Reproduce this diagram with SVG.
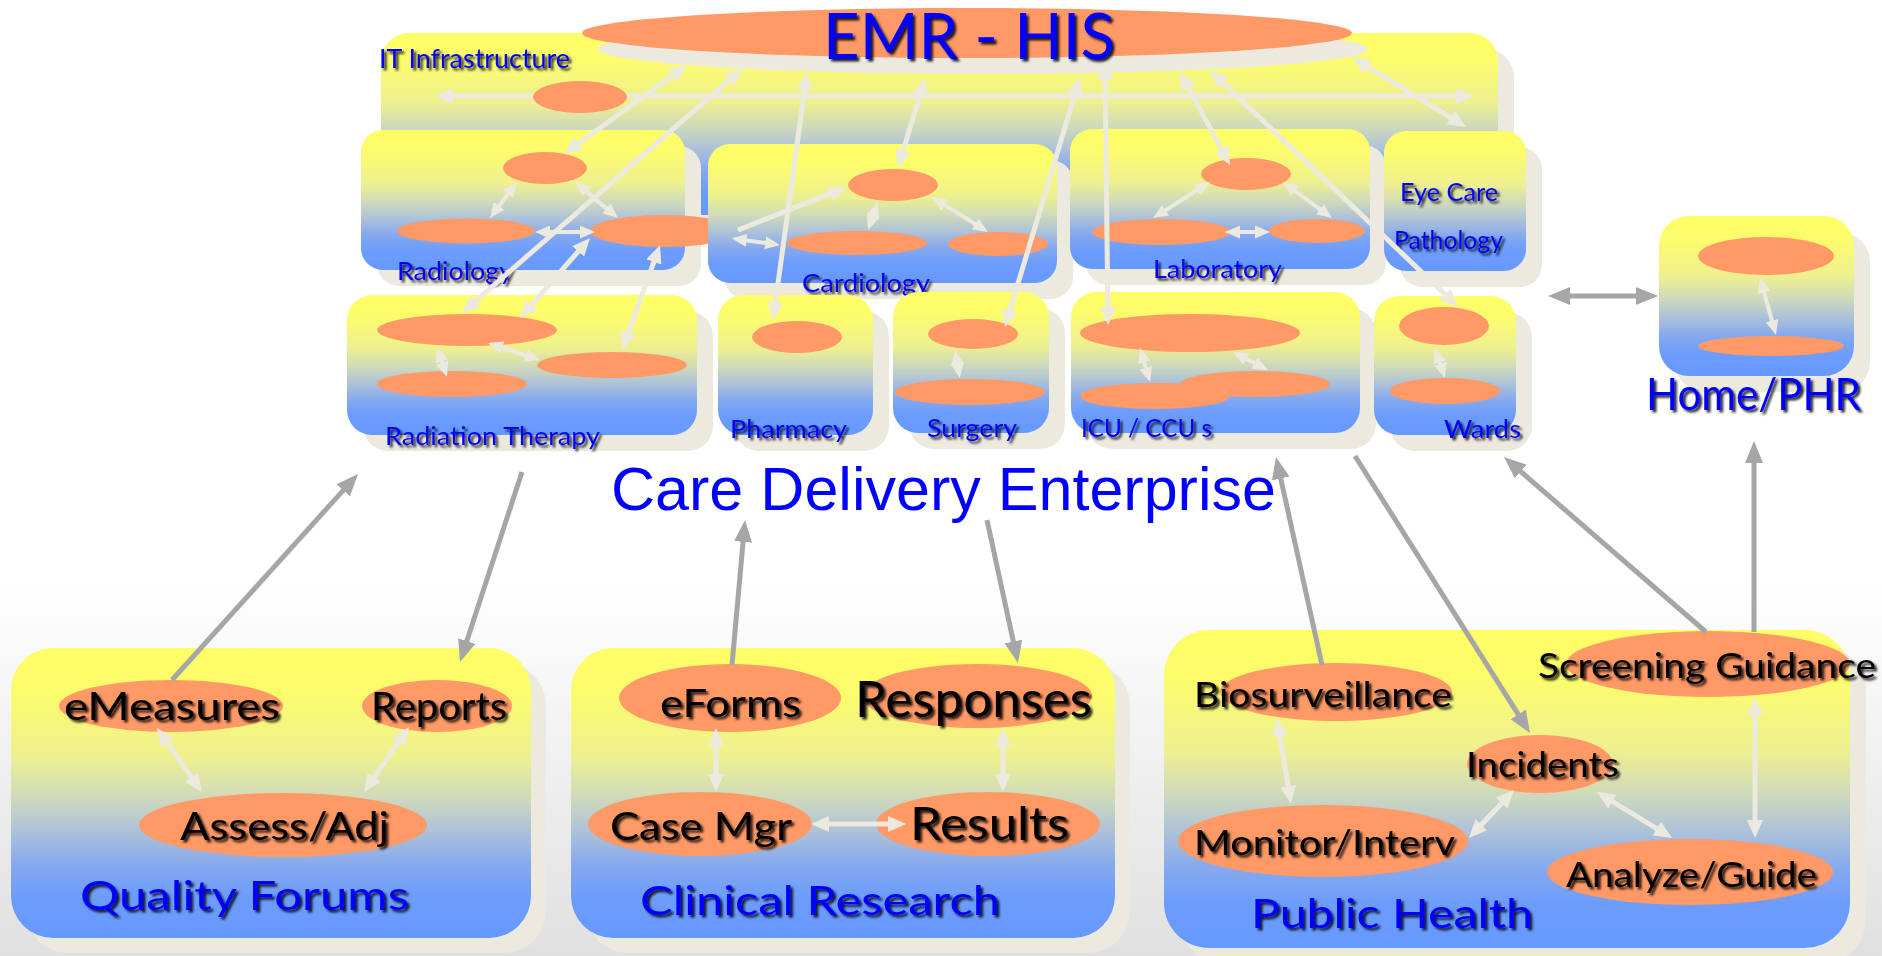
<svg xmlns="http://www.w3.org/2000/svg" width="1882" height="956" viewBox="0 0 1882 956">
<defs>
<style>
.b{fill:url(#box)}
.sh{fill:#ECEADF}
.e{fill:#FF9966}
.c{stroke:#ECEADF;stroke-width:5;fill:none;marker-start:url(#ab);marker-end:url(#ab)}
.c1{stroke:#ECEADF;stroke-width:5;fill:none;marker-end:url(#ab)}
.cs{stroke:#ECEADF;stroke-width:4;fill:none;marker-start:url(#as);marker-end:url(#as)}
.g{stroke:#A6A6A6;stroke-width:5;fill:none;marker-end:url(#ag)}
.g2{stroke:#A6A6A6;stroke-width:5;fill:none;marker-start:url(#ag);marker-end:url(#ag)}
.lb{font-family:Lato,"Liberation Sans",sans-serif;fill:#0000FF;filter:url(#ts)}
.bk{font-family:Lato,"Liberation Sans",sans-serif;fill:#000000;filter:url(#ts)}
</style>
<linearGradient id="box" x1="0" y1="0" x2="0" y2="1">
<stop offset="0" stop-color="#FFFF66"/>
<stop offset="0.15" stop-color="#FCFC6C"/>
<stop offset="0.38" stop-color="#EEF090"/>
<stop offset="0.52" stop-color="#CED9BC"/>
<stop offset="0.63" stop-color="#AEC2D8"/>
<stop offset="0.75" stop-color="#85A9EE"/>
<stop offset="0.86" stop-color="#6C9CFC"/>
<stop offset="1" stop-color="#6699FF"/>
</linearGradient>
<linearGradient id="bg" gradientUnits="userSpaceOnUse" x1="0" y1="580" x2="0" y2="956">
<stop offset="0" stop-color="#FFFFFF"/>
<stop offset="1" stop-color="#E0E0E0"/>
</linearGradient>
<filter id="ts" x="-10%" y="-30%" width="130%" height="170%">
<feDropShadow dx="2.5" dy="2.5" stdDeviation="1" flood-color="#000000" flood-opacity="0.85"/>
</filter>
<marker id="ab" viewBox="0 0 18 16" refX="6" refY="8" markerWidth="18" markerHeight="16" markerUnits="userSpaceOnUse" orient="auto-start-reverse"><path d="M0,0L18,8L0,16Z" fill="#ECEADF"/></marker>
<marker id="as" viewBox="0 0 15 13" refX="5" refY="6.5" markerWidth="15" markerHeight="13" markerUnits="userSpaceOnUse" orient="auto-start-reverse"><path d="M0,0L15,6.5L0,13Z" fill="#ECEADF"/></marker>
<marker id="ag" viewBox="0 0 22 18" refX="8" refY="9" markerWidth="22" markerHeight="18" markerUnits="userSpaceOnUse" orient="auto-start-reverse"><path d="M0,0L22,9L0,18Z" fill="#A6A6A6"/></marker>
</defs>

<rect x="0" y="0" width="1882" height="956" fill="url(#bg)"/>

<g id="it-infrastructure">
<rect class="sh" x="397" y="49" width="1117" height="182" rx="28"/>
<rect class="b" x="381" y="33" width="1117" height="182" rx="28"/>
<ellipse class="e" cx="580" cy="97" rx="47" ry="16"/>
<text class="lb" x="379" y="68" font-size="26.5" textLength="191" lengthAdjust="spacingAndGlyphs">IT Infrastructure</text>
</g>

<g id="emr-his">
<ellipse class="sh" cx="983" cy="49" rx="385" ry="25"/>
<ellipse class="e" cx="967" cy="33" rx="385" ry="25"/>
<text class="lb" x="823" y="59" font-size="63" textLength="292" lengthAdjust="spacingAndGlyphs">EMR - HIS</text>
</g>

<g id="radiology">
<rect class="sh" x="377" y="146" width="324" height="140" rx="22"/>
<rect class="b" x="361" y="130" width="324" height="140" rx="22"/>
<ellipse class="e" cx="545" cy="168" rx="42" ry="16"/>
<ellipse class="e" cx="466" cy="231" rx="69" ry="12.5"/>
<ellipse class="e" cx="664" cy="231" rx="74" ry="16"/>
<text class="lb" x="397" y="280" font-size="25" textLength="116" lengthAdjust="spacingAndGlyphs">Radiology</text>
</g>

<g id="cardiology">
<rect class="sh" x="724" y="160" width="349" height="139" rx="22"/>
<rect class="b" x="708" y="144" width="349" height="139" rx="22"/>
<ellipse class="e" cx="893" cy="185" rx="45" ry="16"/>
<ellipse class="e" cx="857" cy="243" rx="70" ry="12"/>
<ellipse class="e" cx="998" cy="244" rx="50" ry="12"/>
<text class="lb" x="802" y="292" font-size="25" textLength="128" lengthAdjust="spacingAndGlyphs">Cardiology</text>
</g>

<g id="laboratory">
<rect class="sh" x="1086" y="145" width="300" height="140" rx="22"/>
<rect class="b" x="1070" y="129" width="300" height="140" rx="22"/>
<ellipse class="e" cx="1246" cy="174" rx="45" ry="16"/>
<ellipse class="e" cx="1161" cy="232" rx="69" ry="13"/>
<ellipse class="e" cx="1317" cy="231" rx="48" ry="12"/>
<text class="lb" x="1153" y="278" font-size="25" textLength="129" lengthAdjust="spacingAndGlyphs">Laboratory</text>
</g>

<g id="eye-care-pathology">
<rect class="sh" x="1400" y="147" width="142" height="140" rx="22"/>
<rect class="b" x="1384" y="131" width="142" height="140" rx="22"/>
<text class="lb" x="1400" y="201" font-size="25" textLength="98" lengthAdjust="spacingAndGlyphs">Eye Care</text>
<text class="lb" x="1394" y="249" font-size="25" textLength="109" lengthAdjust="spacingAndGlyphs">Pathology</text>
</g>

<g id="radiation-therapy">
<rect class="sh" x="363" y="311" width="350" height="140" rx="25"/>
<rect class="b" x="347" y="295" width="350" height="140" rx="25"/>
<ellipse class="e" cx="467" cy="330" rx="90" ry="16"/>
<ellipse class="e" cx="452" cy="384" rx="75" ry="13"/>
<ellipse class="e" cx="612" cy="365" rx="75" ry="13"/>
<text class="lb" x="385" y="445" font-size="25" textLength="215" lengthAdjust="spacingAndGlyphs">Radiation Therapy</text>
</g>

<g id="pharmacy">
<rect class="sh" x="734" y="311" width="155" height="140" rx="25"/>
<rect class="b" x="718" y="295" width="155" height="140" rx="25"/>
<ellipse class="e" cx="797" cy="337" rx="45" ry="16"/>
<text class="lb" x="730" y="438" font-size="25" textLength="117" lengthAdjust="spacingAndGlyphs">Pharmacy</text>
</g>

<g id="surgery">
<rect class="sh" x="909" y="308" width="156" height="141" rx="25"/>
<rect class="b" x="893" y="292" width="156" height="141" rx="25"/>
<ellipse class="e" cx="973" cy="334" rx="45" ry="15"/>
<ellipse class="e" cx="970" cy="392" rx="75" ry="13"/>
<text class="lb" x="927" y="437" font-size="25" textLength="90" lengthAdjust="spacingAndGlyphs">Surgery</text>
</g>

<g id="icu-ccu">
<rect class="sh" x="1087" y="308" width="289" height="141" rx="25"/>
<rect class="b" x="1071" y="292" width="289" height="141" rx="25"/>
<ellipse class="e" cx="1190" cy="333" rx="110" ry="19"/>
<ellipse class="e" cx="1255" cy="384" rx="75" ry="13"/>
<ellipse class="e" cx="1155" cy="396" rx="75" ry="13"/>
<text class="lb" x="1081" y="437" font-size="25" textLength="131" lengthAdjust="spacingAndGlyphs">ICU / CCU s</text>
</g>

<g id="wards">
<rect class="sh" x="1390" y="312" width="142" height="139" rx="25"/>
<rect class="b" x="1374" y="296" width="142" height="139" rx="25"/>
<ellipse class="e" cx="1444" cy="326" rx="45" ry="19"/>
<ellipse class="e" cx="1445" cy="391" rx="55" ry="13"/>
<text class="lb" x="1444" y="438" font-size="25" textLength="77" lengthAdjust="spacingAndGlyphs">Wards</text>
</g>

<g id="home-phr">
<rect class="sh" x="1675" y="232" width="195" height="160" rx="30"/>
<rect class="b" x="1659" y="216" width="195" height="160" rx="30"/>
<ellipse class="e" cx="1766" cy="256" rx="68" ry="19"/>
<ellipse class="e" cx="1771" cy="346" rx="73" ry="10"/>
<text class="lb" x="1646" y="410" font-size="45" textLength="215" lengthAdjust="spacingAndGlyphs">Home/PHR</text>
</g>

<g id="care-delivery-enterprise">
<text x="611" y="510" font-family="'Liberation Sans',Arial,sans-serif" font-size="61" fill="#0000FF" textLength="665" lengthAdjust="spacingAndGlyphs">Care Delivery Enterprise</text>
</g>

<g id="quality-forums">
<rect class="sh" x="26" y="663" width="520" height="290" rx="42"/>
<rect class="b" x="11" y="648" width="520" height="290" rx="42"/>
<ellipse class="e" cx="171" cy="706" rx="112" ry="26"/>
<ellipse class="e" cx="437" cy="706" rx="75" ry="26"/>
<ellipse class="e" cx="283" cy="825" rx="144" ry="32"/>
<text class="bk" x="64" y="720" font-size="39" textLength="216" lengthAdjust="spacingAndGlyphs">eMeasures</text>
<text class="bk" x="371" y="720" font-size="39" textLength="136" lengthAdjust="spacingAndGlyphs">Reports</text>
<text class="bk" x="180" y="840" font-size="39" textLength="209" lengthAdjust="spacingAndGlyphs">Assess/Adj</text>
<text class="lb" x="80" y="910" font-size="41" textLength="329" lengthAdjust="spacingAndGlyphs">Quality Forums</text>
</g>

<g id="clinical-research">
<rect class="sh" x="586" y="663" width="544" height="290" rx="42"/>
<rect class="b" x="571" y="648" width="544" height="290" rx="42"/>
<ellipse class="e" cx="730" cy="698" rx="111" ry="34"/>
<ellipse class="e" cx="977" cy="696" rx="115" ry="32"/>
<ellipse class="e" cx="700" cy="824" rx="112" ry="32"/>
<ellipse class="e" cx="988" cy="824" rx="112" ry="32"/>
<text class="bk" x="660" y="717" font-size="39" textLength="141" lengthAdjust="spacingAndGlyphs">eForms</text>
<text class="bk" x="855" y="717" font-size="50" textLength="237" lengthAdjust="spacingAndGlyphs">Responses</text>
<text class="bk" x="610" y="840" font-size="39" textLength="182" lengthAdjust="spacingAndGlyphs">Case Mgr</text>
<text class="bk" x="910" y="840" font-size="46" textLength="159" lengthAdjust="spacingAndGlyphs">Results</text>
<text class="lb" x="640" y="915" font-size="41" textLength="360" lengthAdjust="spacingAndGlyphs">Clinical Research</text>
</g>

<g id="public-health">
<rect class="sh" x="1180" y="646" width="686" height="318" rx="45"/>
<rect class="b" x="1164" y="630" width="686" height="318" rx="45"/>
<ellipse class="e" cx="1336" cy="692" rx="116" ry="29"/>
<ellipse class="e" cx="1708" cy="664" rx="142" ry="33"/>
<ellipse class="e" cx="1540" cy="764" rx="73" ry="29"/>
<ellipse class="e" cx="1323" cy="841" rx="145" ry="36"/>
<ellipse class="e" cx="1690" cy="872" rx="143" ry="33"/>
<text class="bk" x="1194" y="707" font-size="35" textLength="258" lengthAdjust="spacingAndGlyphs">Biosurveillance</text>
<text class="bk" x="1538" y="678" font-size="35" textLength="338" lengthAdjust="spacingAndGlyphs">Screening Guidance</text>
<text class="bk" x="1466" y="777" font-size="35" textLength="153" lengthAdjust="spacingAndGlyphs">Incidents</text>
<text class="bk" x="1194" y="855" font-size="35" textLength="261" lengthAdjust="spacingAndGlyphs">Monitor/Interv</text>
<text class="bk" x="1566" y="887" font-size="35" textLength="251" lengthAdjust="spacingAndGlyphs">Analyze/Guide</text>
<text class="lb" x="1251" y="928" font-size="41" textLength="282" lengthAdjust="spacingAndGlyphs">Public Health</text>
</g>

<g id="connectors">
<line class="c1" x1="533" y1="96" x2="447" y2="96"/>
<line class="c1" x1="627" y1="96" x2="1462" y2="96"/>
<line class="c" x1="677.3" y1="72" x2="573.7" y2="147"/>
<line class="c" x1="734" y1="75.9" x2="471" y2="305.1"/>
<line class="c" x1="805.4" y1="83.9" x2="774.6" y2="308.1"/>
<line class="c" x1="921.6" y1="89.5" x2="901.4" y2="156.5"/>
<line class="c" x1="1076.6" y1="88.5" x2="1008.4" y2="315.5"/>
<line class="c" x1="1105.1" y1="74" x2="1107.9" y2="313"/>
<line class="c" x1="1185.7" y1="82.6" x2="1224.3" y2="154.4"/>
<line class="c" x1="1218.6" y1="78.4" x2="1449.4" y2="298.6"/>
<line class="c" x1="1362.2" y1="63.3" x2="1455.8" y2="120.7"/>
<line class="cs" x1="511" y1="190" x2="496" y2="210"/>
<line class="cs" x1="582.7" y1="188.4" x2="610.3" y2="211.6"/>
<line class="cs" x1="545" y1="232" x2="585" y2="232"/>
<line class="c1" x1="738" y1="230" x2="835.8" y2="191.4"/>
<line class="cs" x1="741.6" y1="239.7" x2="770.1" y2="243.6"/>
<line class="c" x1="527.9" y1="309" x2="582.1" y2="247"/>
<line class="c" x1="626.1" y1="338.7" x2="655.9" y2="256.3"/>
<line class="cs" x1="874.6" y1="211.4" x2="871.4" y2="220.6"/>
<line class="cs" x1="940.5" y1="202.3" x2="979.5" y2="226.7"/>
<line class="cs" x1="1201.5" y1="187.3" x2="1161.5" y2="212.7"/>
<line class="cs" x1="1291.1" y1="187.9" x2="1323.9" y2="212.1"/>
<line class="cs" x1="1235" y1="232" x2="1260" y2="232"/>
<line class="cs" x1="440.2" y1="356.5" x2="443.8" y2="367.5"/>
<line class="cs" x1="497.5" y1="346.1" x2="530.5" y2="356.9"/>
<line class="cs" x1="956.8" y1="359.8" x2="958.2" y2="368.2"/>
<line class="cs" x1="1142.8" y1="357.6" x2="1147.2" y2="372.4"/>
<line class="cs" x1="1241.9" y1="356.6" x2="1259.1" y2="365.4"/>
<line class="cs" x1="1438.2" y1="357.5" x2="1441.8" y2="368.5"/>
<line class="cs" x1="1762.7" y1="287.6" x2="1773.3" y2="325.4"/>
<line class="c" x1="163.9" y1="737.8" x2="195.1" y2="782.2"/>
<line class="c" x1="402.2" y1="736.9" x2="370.8" y2="782.1"/>
<line class="c" x1="716" y1="740" x2="716" y2="780"/>
<line class="c" x1="1003" y1="740" x2="1003" y2="780"/>
<line class="c" x1="823" y1="824" x2="894" y2="824"/>
<line class="c" x1="1278.9" y1="729.8" x2="1289.1" y2="792.2"/>
<line class="c" x1="1505.8" y1="798.8" x2="1477.2" y2="829.2"/>
<line class="c" x1="1607.2" y1="798.3" x2="1661.8" y2="831.7"/>
<line class="c" x1="1755" y1="710" x2="1755" y2="826"/>
<line class="g" x1="172" y1="680" x2="348.6" y2="484.4"/>
<line class="g" x1="522" y1="472" x2="464.3" y2="648.7"/>
<line class="g" x1="732" y1="665" x2="743.8" y2="533.9"/>
<line class="g" x1="987" y1="520" x2="1015" y2="649.3"/>
<line class="g" x1="1322" y1="665" x2="1279" y2="470.7"/>
<line class="g" x1="1355" y1="456" x2="1522.5" y2="721.2"/>
<line class="g" x1="1706" y1="632" x2="1514.6" y2="466.2"/>
<line class="g" x1="1754" y1="632" x2="1754" y2="455"/>
<line class="g2" x1="1562" y1="296" x2="1644" y2="296"/>
</g>
</svg>
